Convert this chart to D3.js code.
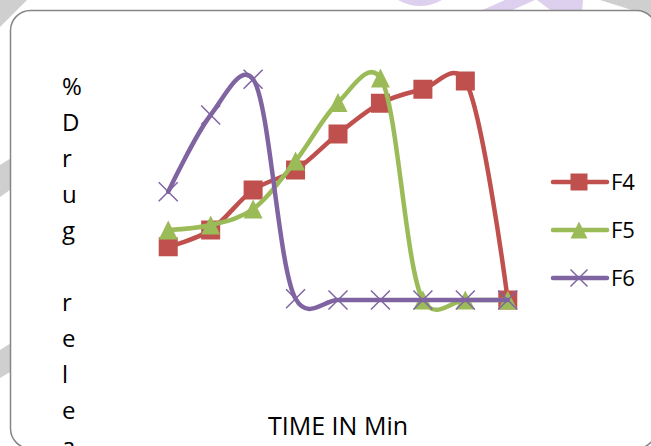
<!DOCTYPE html>
<html>
<head>
<meta charset="utf-8">
<script src="https://cdn.jsdelivr.net/npm/d3@7"></script>
<style>
  body { margin: 0; background: #fff; }
  svg { display: block; }
</style>
</head>
<body>
<div id="wrapper"></div>
<script>
  // data (% drug release, y axis hidden in original)
  const times = ["0", "1", "2", "3", "4", "5", "6", "7", "8"]
  const f4 = [21.3, 28, 44, 52, 66.4, 78.7, 84.3, 87.6, 0]
  const f5 = [28, 30, 36.4, 55.6, 79, 88.8, 0, 0, 0]
  const f6 = [43.3, 74, 88.3, 0.5, 0, 0, 0, 0, 0]
  const seriesNames = ["F4", "F5", "F6"]
  const seriesColors = ["#C0504D", "#9BBB59", "#8064A2"]
  const seriesMarkers = ["square", "triangle", "cross"]

  const series = [f4, f5, f6].map((values, i) => ({
    name: seriesNames[i],
    color: seriesColors[i],
    marker: seriesMarkers[i],
    values: values
  }))

  const dimensions = {
    width: 651,
    height: 446,
    plotLeft: 147,
    plotRight: 529,
    plotTop: 50,
    plotBottom: 300
  }

  const svg = d3.select("#wrapper")
    .append("svg")
      .attr("width", dimensions.width)
      .attr("height", dimensions.height)

  // faint watermark bits peeking around the frame
  const deco = svg.append("g")
  deco.append("path").attr("d", "M0,0 L27,0 L0,27 Z").attr("fill", "#cfcfcf")
  deco.append("path").attr("d", "M0,165 L27,148 L27,178 L0,197 Z").attr("fill", "#cfcfcf")
  deco.append("path").attr("d", "M0,350 L27,333 L27,362 L0,378 Z").attr("fill", "#cfcfcf")
  deco.append("path").attr("d", "M600,0 L651,0 L651,16 Z").attr("fill", "#cfcfcf")
  deco.append("path").attr("d", "M398,0 Q420,12 442,0 Z").attr("fill", "#ddd0ee")
  deco.append("path").attr("d", "M478,12 L505,0 L535,0 L508,12 Z").attr("fill", "#ddd0ee")
  deco.append("path").attr("d", "M537,0 L583,0 L582,12 L553,12 Z").attr("fill", "#ddd0ee")

  // chart frame
  svg.append("rect")
      .attr("x", 10.5)
      .attr("y", 10.5)
      .attr("width", 646)
      .attr("height", 438)
      .attr("rx", 20)
      .attr("fill", "#fff")
      .attr("stroke", "#868686")
      .attr("stroke-width", 1.5)

  // scales
  const xScale = d3.scalePoint()
    .domain(times)
    .range([dimensions.plotLeft, dimensions.plotRight])
    .padding(0.5)

  const yScale = d3.scaleLinear()
    .domain([0, 100])
    .range([dimensions.plotBottom, dimensions.plotTop])

  // smoothed lines like the spreadsheet's, a bit less overshoot than plain catmull-rom
  const lineGenerator = d3.line()
    .x((d, i) => xScale(times[i]))
    .y(d => yScale(d))
    .curve(d3.curveCatmullRom.alpha(0.2))

  const drawMarker = (g, type, color, size) => {
    const h = size / 2
    if (type === "square") {
      g.append("rect")
        .attr("x", -h).attr("y", -h)
        .attr("width", size).attr("height", size)
        .attr("fill", color)
    } else if (type === "triangle") {
      g.append("path")
        .attr("d", `M0,${-h} L${h},${h} L${-h},${h} Z`)
        .attr("fill", color)
    } else {
      g.append("path")
        .attr("d", `M${-h},${-h} L${h},${h} M${h},${-h} L${-h},${h}`)
        .attr("stroke", color)
        .attr("stroke-width", 1.5)
        .attr("fill", "none")
    }
  }

  const plot = svg.append("g")

  series.forEach(s => {
    const g = plot.append("g")
    g.append("path")
        .attr("d", lineGenerator(s.values))
        .attr("fill", "none")
        .attr("stroke", s.color)
        .attr("stroke-width", 4.5)
        .attr("stroke-linecap", "round")
        .attr("stroke-linejoin", "round")

    s.values.forEach((v, i) => {
      const m = g.append("g")
        .attr("transform", `translate(${xScale(times[i])},${yScale(v)})`)
      drawMarker(m, s.marker, s.color, 19)
    })
  })

  // legend
  const legend = svg.append("g")
  series.forEach((s, i) => {
    const y = 182 + i * 48
    const item = legend.append("g")
    item.append("line")
        .attr("x1", 553).attr("x2", 607)
        .attr("y1", y).attr("y2", y)
        .attr("stroke", s.color)
        .attr("stroke-width", 4.5)
        .attr("stroke-linecap", "round")
    const m = item.append("g").attr("transform", `translate(579,${y})`)
    drawMarker(m, s.marker, s.color, 17)
    item.append("text")
        .attr("x", 611)
        .attr("y", y + 7.5)
        .text(s.name)
        .style("font-family", "'Open Sans', sans-serif")
        .style("font-size", "22px")
        .attr("fill", "#000")
  })

  // axis titles (axes themselves are hidden)
  svg.append("text")
      .attr("x", (dimensions.plotLeft + dimensions.plotRight) / 2)
      .attr("y", 435)
      .attr("text-anchor", "middle")
      .text("TIME IN Min")
      .style("font-family", "'Open Sans', sans-serif")
      .style("font-size", "25px")
      .attr("fill", "#000")

  // stacked one letter per line, as in the original; it runs off the bottom
  const yTitle = "%Drug release"
  svg.append("g").selectAll("text")
    .data(yTitle.split(""))
    .enter().append("text")
      .attr("x", 62)
      .attr("y", (d, i) => 95 + i * 36)
      .text(d => d)
      .style("font-family", "'Open Sans', sans-serif")
      .style("font-size", "24px")
      .attr("fill", "#000")
</script>
</body>
</html>
